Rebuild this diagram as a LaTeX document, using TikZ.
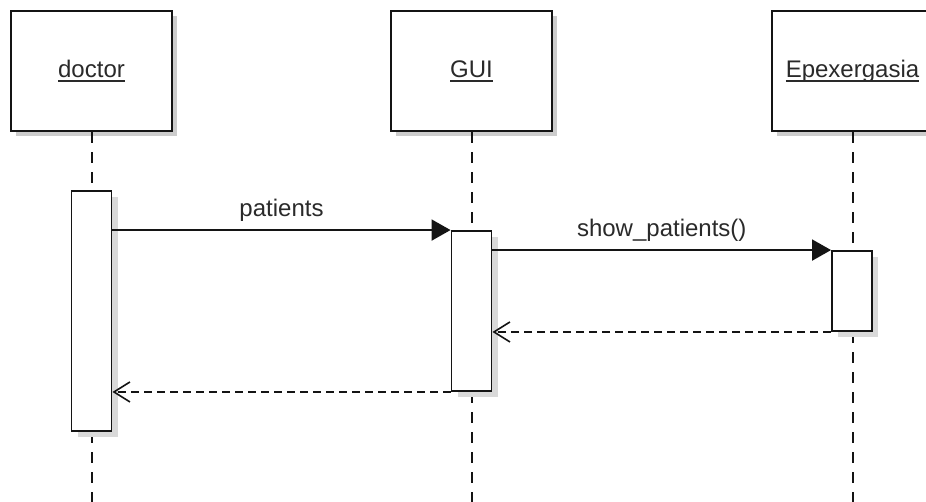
\documentclass[tikz,border=0pt]{standalone}
\usepackage{fontspec}
\setmainfont{Liberation Sans}
\usetikzlibrary{arrows.meta,shadows}
\definecolor{ink}{HTML}{141414}
\definecolor{txt}{HTML}{2A2A2A}
\definecolor{shade}{HTML}{CCCCCC}
% underlined participant name with a fixed-depth rule
\newcommand\actorlabel[1]{\setbox0\hbox{#1}\rlap{\rule[-5pt]{\wd0}{1.6pt}}\box0}
\begin{document}
\begin{tikzpicture}[x=1pt,y=-1pt,
  every node/.style={font=\fontsize{24}{28}\selectfont, text=txt},
  headbox/.style={draw=ink, line width=2pt, fill=white, minimum width=161pt,
    minimum height=120pt, inner sep=0pt, text height=17pt, text depth=5pt,
    drop shadow={shadow xshift=5pt, shadow yshift=-5pt, fill=shade, opacity=1}},
  actbox/.style={draw=ink, line width=1.9pt, fill=white, minimum width=40pt, inner sep=0pt,
    drop shadow={shadow xshift=6pt, shadow yshift=-6pt, fill=shade!75, opacity=1}},
  life/.style={draw=ink, line width=2pt, dash pattern=on 11pt off 9pt},
  call/.style={draw=ink, line width=1.9pt, -{Triangle[length=19pt,width=21pt]}},
  reply/.style={draw=ink, line width=1.7pt, dash pattern=on 8pt off 5pt,
    -{Straight Barb[length=16pt,width=20pt,line width=1.6pt]}},
  msg/.style={anchor=base, yshift=14pt}]
\useasboundingbox (0,0) rectangle (926,501);
\fill[white] (0,0) rectangle (926,501);
\clip (0,0) rectangle (926,501);

% participants
\node[headbox] (doctor) at (91.5,71) {\actorlabel{doctor}};
\node[headbox] (gui) at (471.5,71) {\actorlabel{GUI}};
\node[headbox] (epex) at (852.5,71) {\actorlabel{Epexergasia}};

% lifelines
\coordinate (doctorEnd) at (91.5,505);
\coordinate (guiEnd) at (471.5,505);
\coordinate (epexEnd) at (852.5,505);
\draw[life] (doctor.south) -- (doctorEnd);
\draw[life] (gui.south) -- (guiEnd);
\draw[life] (epex.south) -- (epexEnd);

% activations
\node[actbox, minimum height=240pt] (a1) at (91.5,311) {};
\node[actbox, minimum height=160pt] (a2) at (471.5,311) {};
\node[actbox, minimum height=80pt] (a3) at (852,291) {};

% messages
\draw[call] (a1.east |- a2.north) -- node[msg]{patients} (a2.north west);
\draw[call] (a2.east |- a3.north) -- node[msg]{show\_patients()} (a3.north west);
\draw[reply] (a3.south west) -- (a2.east |- a3.south);
\draw[reply] (a2.south west) -- (a1.east |- a2.south);
\end{tikzpicture}
\end{document}
